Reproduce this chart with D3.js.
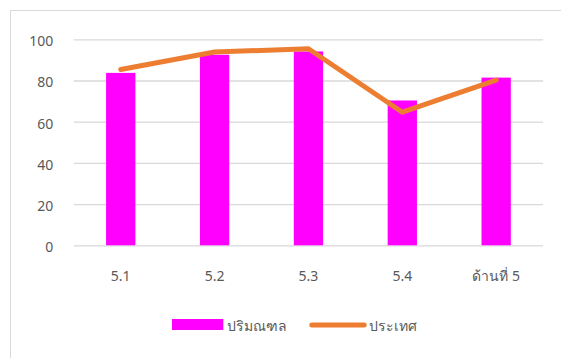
<!DOCTYPE html>
<html><head><meta charset="utf-8">
<script src="https://cdn.jsdelivr.net/npm/d3@7"></script>
<style>
html,body{margin:0;padding:0;background:#fff;}
svg{display:block;}
text{font-family:"Noto Sans","Open Sans",sans-serif;fill:#595959;}
</style></head>
<body><svg id="c" width="561" height="358"></svg>
<script>
const categories = ["5.1","5.2","5.3","5.4","ด้านที่ 5"];
const barValues = [83.7, 92.5, 94.1, 70.3, 81.4];
const lineValues = [85.3, 93.8, 95.4, 64.6, 80.2];
const yTicks = [0,20,40,60,80,100];
const seriesNames = ["ปริมณฑล","ประเทศ"];

const svg = d3.select("#c");
// outer border
svg.append("rect").attr("x",10.5).attr("y",10.5).attr("width",560).attr("height",360)
  .attr("fill","none").attr("stroke","#d9d9d9").attr("stroke-width",1);

const x0 = 73.8, x1 = 543.1;
const x = d3.scaleBand().domain(categories).range([x0,x1]).paddingInner(0).paddingOuter(0);
const y = d3.scaleLinear().domain([0,100]).range([245.3,39.3]);

// grid
const yAxis = svg.append("g").attr("transform",`translate(${x0},0)`)
  .call(d3.axisLeft(y).tickValues(yTicks).tickSize(-(x1-x0)).tickPadding(20.5));
yAxis.select(".domain").remove();
yAxis.selectAll(".tick line").attr("stroke","#d9d9d9").attr("stroke-width",1.3);
yAxis.selectAll(".tick text").attr("font-size","14px").attr("fill","#595959").attr("dy","0.46em");

const bw = 29.3;
svg.append("g").selectAll("rect").data(categories).join("rect")
  .attr("x",d=>x(d)+x.bandwidth()/2-bw/2)
  .attr("y",(d,i)=>y(barValues[i]))
  .attr("width",bw)
  .attr("height",(d,i)=>y(0)-y(barValues[i]))
  .attr("fill","#ff00ff");

const line = d3.line().x((d,i)=>x(categories[i])+x.bandwidth()/2).y(d=>y(d));
svg.append("path").datum(lineValues).attr("d",line)
  .attr("fill","none").attr("stroke","#ed7d31").attr("stroke-width",5)
  .attr("stroke-linecap","round").attr("stroke-linejoin","round");

const xAxis = svg.append("g").attr("transform","translate(0,245.3)")
  .call(d3.axisBottom(x).tickSize(0).tickPadding(26));
xAxis.select(".domain").remove();
xAxis.selectAll(".tick text").attr("font-size","14px").attr("fill","#595959");

// legend
const lg = svg.append("g");
lg.append("rect").attr("x",172).attr("y",319).attr("width",51.3).attr("height",11).attr("fill","#ff00ff");
lg.append("text").attr("x",227).attr("y",331).attr("font-size","14px").text(seriesNames[0]);
lg.append("line").attr("x1",311.8).attr("x2",364.2).attr("y1",325).attr("y2",325)
  .attr("stroke","#ed7d31").attr("stroke-width",5).attr("stroke-linecap","round");
lg.append("text").attr("x",369).attr("y",331).attr("font-size","14px").text(seriesNames[1]);
</script></body></html>
